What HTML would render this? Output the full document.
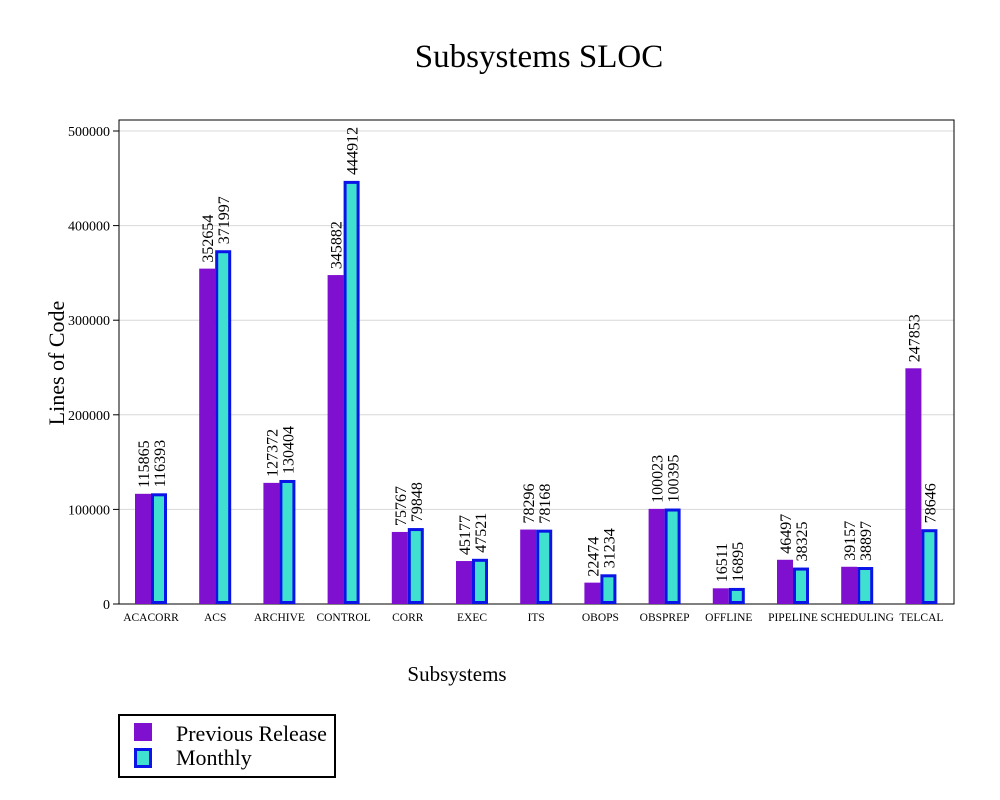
<!DOCTYPE html>
<html><head><meta charset="utf-8"><style>
body{margin:0;background:#fff;font-family:"Liberation Serif",serif}
</style></head><body>
<svg width="1000" height="795" viewBox="0 0 1000 795" xmlns="http://www.w3.org/2000/svg" font-family="Liberation Serif, serif">
<text x="539" y="67" font-size="33" text-anchor="middle">Subsystems SLOC</text>
<g id="grid"></g>
<rect x="119" y="120" width="835" height="484" fill="none" stroke="#000" stroke-width="1"/>
<g id="yticks"></g>
<g id="bars"></g>
<g id="xlabels"></g>
<text x="0" y="0" font-size="22" text-anchor="middle" transform="translate(64,363) rotate(-90)">Lines of Code</text>
<text x="457" y="681" font-size="21" text-anchor="middle">Subsystems</text>
<g>
<rect x="119" y="715" width="216" height="62" fill="#fff" stroke="#000" stroke-width="2"/>
<rect x="134" y="723" width="18" height="18" fill="#8010d0"/>
<text x="176" y="741" font-size="22">Previous Release</text>
<rect x="135.5" y="749.5" width="15" height="17" fill="#40e0d0" stroke="#0a14e6" stroke-width="3"/>
<text x="176" y="765" font-size="22">Monthly</text>
</g>
</svg>
<script>
const categories=["ACACORR","ACS","ARCHIVE","CONTROL","CORR","EXEC","ITS","OBOPS","OBSPREP","OFFLINE","PIPELINE","SCHEDULING","TELCAL"];
const previousRelease=[115865,352654,127372,345882,75767,45177,78296,22474,100023,16511,46497,39157,247853];
const monthly=[116393,371997,130404,444912,79848,47521,78168,31234,100395,16895,38325,38897,78646];
const yTicks=[0,100000,200000,300000,400000,500000];
const NS="http://www.w3.org/2000/svg";
const y0=604,yTop=131,yMax=500000;
function yScale(v){return y0-(v/yMax)*(y0-yTop);}
function barY(v){return y0-v*0.000951;}
function xCenter(i){return 151+i*64.2;}
function mk(tag,attrs,parent){const e=document.createElementNS(NS,tag);for(const k in attrs)e.setAttribute(k,attrs[k]);parent.appendChild(e);return e;}
const grid=document.getElementById('grid'),yt=document.getElementById('yticks'),bars=document.getElementById('bars'),xl=document.getElementById('xlabels');
yTicks.forEach(t=>{
  const y=yScale(t);
  if(t>0){const g=mk('line',{x1:119,x2:954,y1:y,y2:y,stroke:'#d8d8d8','stroke-width':1},grid);
  
  }
  const tk=mk('line',{x1:113,x2:119,y1:y,y2:y,stroke:'#000'},yt);
  
  
  const tx=mk('text',{x:110,y:y+5,'font-size':14,'text-anchor':'end'},yt);
  
  
  tx.textContent=t;
});
categories.forEach((c,i)=>{
  const cx=xCenter(i);
  const py=barY(previousRelease[i]);
  const b1=mk('rect',{x:cx-16,y:py,width:16,height:y0-py,fill:'#8010d0'},bars);
  
  
  const my=barY(monthly[i]);
  const b2=mk('rect',{x:cx+1.5,y:my+1.5,width:13,height:Math.max(0,y0-my-3),fill:'#40e0d0',stroke:'#0a14e6','stroke-width':3},bars);
  
  
  const l1=mk('text',{x:0,y:0,'font-size':16,transform:`translate(${cx-2},${py-6}) rotate(-90)`},bars);
  
  
  l1.textContent=previousRelease[i];
  const l2=mk('text',{x:0,y:0,'font-size':16,transform:`translate(${cx+14},${my-6}) rotate(-90)`},bars);
  
  
  l2.textContent=monthly[i];
  const xt=mk('text',{x:cx,y:621,'font-size':11.5,'text-anchor':'middle'},xl);
  
  
  xt.textContent=c;
});
</script>
</body></html>
